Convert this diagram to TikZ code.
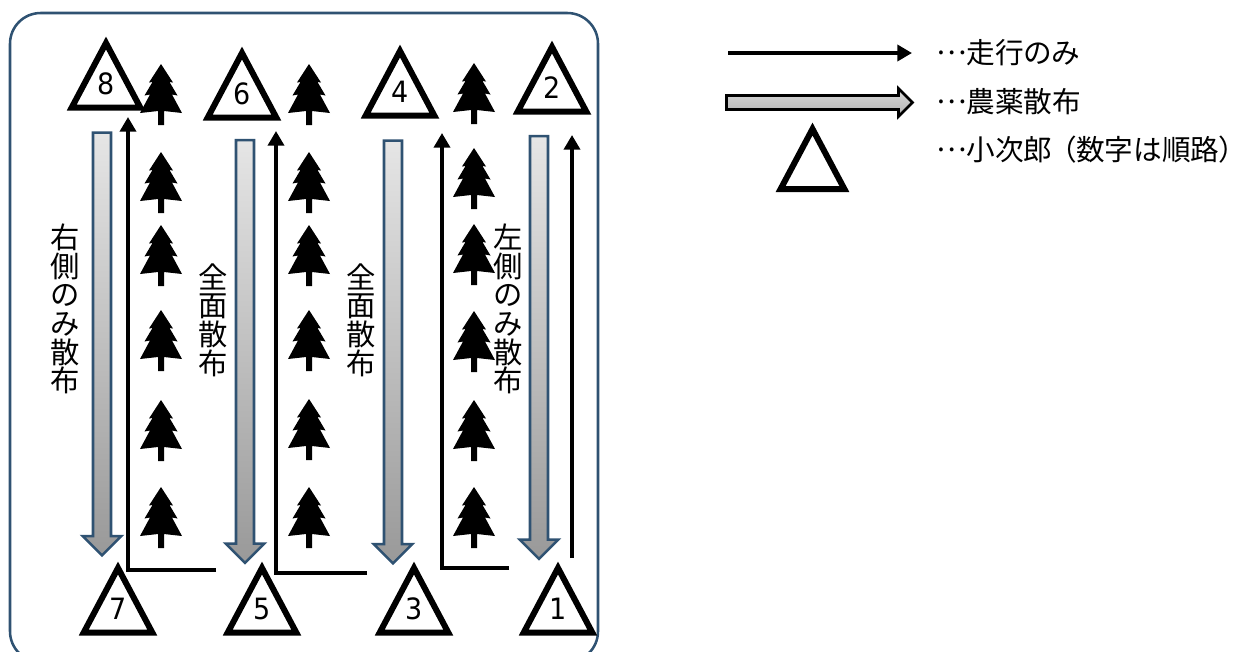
\documentclass[tikz,border=0pt]{standalone}
\usepackage{fontspec}
\setmainfont{Noto Sans CJK JP}
\newfontfamily\numfont{DejaVu Sans}
\newfontfamily\keyfont[RawFeature=+palt]{Noto Sans CJK JP}
\usetikzlibrary{shapes.geometric}
\usetikzlibrary{shapes.arrows}
\usetikzlibrary{arrows.meta}

\definecolor{framecolor}{HTML}{2F5272}
\newcommand{\middots}{\raisebox{.33em}{…}}

\tikzset{
  sugi/.pic={
    \fill (0,0) -- (12,18.5) -- (8.5,18) -- (16.5,31.5) -- (11,30.5) -- (21,49) -- (3,47)
      -- (3,61) -- (-3,61) -- (-3,47) -- (-21,49) -- (-11,30.5) -- (-16.5,31.5)
      -- (-8.5,18) -- (-12,18.5) -- cycle;
  }
}

\begin{document}
\begin{tikzpicture}[
     x=0.75pt,y=-0.75pt,
     kojiro/.style={regular polygon,regular polygon sides=3,draw,line width=4.5pt,
       xscale=0.92,transform shape,
       minimum size=64.5pt,inner sep=0pt,outer sep=0pt,text depth=3pt,
       font=\numfont\fontsize{22}{22}\selectfont},
     spray/.style={single arrow,shape border rotate=270,draw=framecolor,line width=1.9pt,
       minimum width=25pt,minimum height=317pt,single arrow head extend=7.7pt,
       single arrow tip angle=90,inner sep=5.8pt,outer sep=0pt,
       top color=black!10,bottom color=black!40},
     spraykey/.style={single arrow,draw=black,line width=2pt,
       minimum width=19pt,minimum height=139.5pt,single arrow head extend=5.2pt,
       single arrow tip angle=90,inner sep=4.3pt,outer sep=0pt,
       top color=black!15,bottom color=black!30},
     run/.style={line width=3pt,-{Triangle[length=11pt,width=12pt]}},
     tatelabel/.style={align=center,inner sep=0pt,font=\fontsize{22}{21.5}\selectfont},
     keylabel/.style={anchor=west,inner sep=0pt,font=\keyfont\fontsize{21.5}{22}\selectfont}
   ]
   \useasboundingbox (0,0) rectangle (1236,651);
   % Field.
   \draw[framecolor,line width=1.9pt,rounded corners=23pt] (10,13) rectangle (598,662);
   % Trees.
   \foreach \treex/\treetops in {161/{64,152,225,310,400,487},309/{64,152,225,310,399,487},474/{63,148,224,311,400,487}}
     \foreach \treey in \treetops
       \pic at (\treex,\treey) {sugi};
   % Machines.
   \node[kojiro] (k1) at (558,611) {1};
   \node[kojiro] (k2) at (552,90) {2};
   \node[kojiro] (k3) at (414,611) {3};
   \node[kojiro] (k4) at (400,94) {4};
   \node[kojiro] (k5) at (262,611) {5};
   \node[kojiro] (k6) at (242,96) {6};
   \node[kojiro] (k7) at (118,611) {7};
   \node[kojiro] (k8) at (106,86) {8};
   % Spraying runs.
   \node[spray] (s12) at (539,343) {};
   \node[spray] (s43) at (393,347.5) {};
   \node[spray] (s65) at (245,347) {};
   \node[spray] (s87) at (102,339.5) {};
   % Driving runs.
   \coordinate (r1a) at (572,558);
   \coordinate (r1b) at (572,135);
   \coordinate (r3a) at (509,568);
   \coordinate (r3c) at (442,568);
   \coordinate (r3b) at (442,133);
   \coordinate (r5a) at (367,573);
   \coordinate (r5c) at (276,573);
   \coordinate (r5b) at (276,131);
   \coordinate (r7a) at (216,570);
   \coordinate (r7c) at (128,570);
   \coordinate (r7b) at (128,117);
   \draw[run] (r1a) -- (r1b);
   \draw[run] (r3a) -- (r3c) -- (r3b);
   \draw[run] (r5a) -- (r5c) -- (r5b);
   \draw[run] (r7a) -- (r7c) -- (r7b);
   % Labels along the runs.
   \node[tatelabel] (t1) at (65,309) {右\\側\\の\\み\\散\\布};
   \node[tatelabel] (t2) at (213,320) {全\\面\\散\\布};
   \node[tatelabel] (t3) at (361,320) {全\\面\\散\\布};
   \node[tatelabel] (t4) at (508,309) {左\\側\\の\\み\\散\\布};
   % Key.
   \coordinate (keya) at (728,53);
   \coordinate (keyb) at (912,53);
   \draw[run] (keya) -- (keyb);
   \node[spraykey] (keyspray) at (816,102.5) {};
   \node[kojiro,minimum size=60pt] (keytri) at (812.5,169) {};
   \node[keylabel] (key1) at (936,53) {\middots 走行のみ};
   \node[keylabel] (key2) at (936,102) {\middots 農薬散布};
   \node[keylabel] (key3) at (936,150) {\middots 小次郎\kern7pt（数字は順路）};
 \end{tikzpicture}
\end{document}
